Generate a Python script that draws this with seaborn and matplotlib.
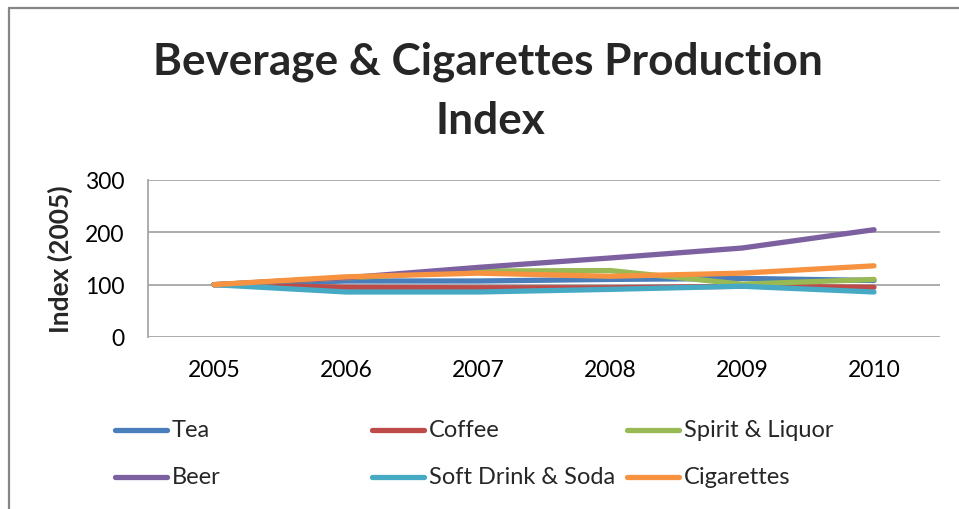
import matplotlib
matplotlib.use("Agg")
import matplotlib.pyplot as plt
from matplotlib.lines import Line2D
import seaborn as sns
import pandas as pd

years = ["2005", "2006", "2007", "2008", "2009", "2010"]
tea = [100, 107, 107, 110, 112, 108]
coffee = [100, 95, 94, 94, 97, 95]
spirit = [100, 113, 126, 127, 101, 110]
beer = [100, 113, 133, 151, 170, 205]
soft_drink = [100, 86, 86, 91, 97, 86]
cigarettes = [100, 115, 122, 116, 122, 136]

series_names = ["Tea", "Coffee", "Spirit & Liquor", "Beer", "Soft Drink & Soda", "Cigarettes"]
series_values = [tea, coffee, spirit, beer, soft_drink, cigarettes]
colors = ["#4A7EBB", "#BE4B48", "#98B954", "#7D60A0", "#46AAC5", "#F69240"]

rows = []
for name, vals in zip(series_names, series_values):
    for i, (yr, v) in enumerate(zip(years, vals)):
        rows.append({"pos": i, "year": yr, "series": name, "value": v})
df = pd.DataFrame(rows)

sns.set_theme(style="white")
plt.rcParams["font.family"] = ["Lato", "DejaVu Sans"]

fig = plt.figure(figsize=(9.59, 5.10), dpi=100)
ax = fig.add_axes([148 / 959, 1 - 338 / 510, (940 - 148) / 959, (338 - 181) / 510])

sns.lineplot(data=df, x="pos", y="value", hue="series", hue_order=series_names,
             palette=colors, linewidth=3.8, legend=False, ax=ax,
             solid_capstyle="round", sort=False)

grid_c = "#A6A6A6"
ax.set_xlim(-0.5, len(years) - 0.5)
ax.set_ylim(0, 300)
ax.set_yticks([0, 100, 200, 300])
ax.set_xticks(range(len(years)))
ax.set_xticklabels(years)
ax.yaxis.grid(True, color=grid_c, linewidth=1.3)
ax.set_axisbelow(True)
for side in ["top", "right", "bottom"]:
    ax.spines[side].set_visible(False)
ax.spines["left"].set_color(grid_c)
ax.spines["left"].set_linewidth(1.3)
ax.tick_params(axis="both", length=0, labelsize=16.5, colors="#000000")
ax.tick_params(axis="y", pad=17)
ax.tick_params(axis="x", pad=16)
ax.set_xlabel("")
ax.set_ylabel("Index (2005)", fontsize=19, fontweight="bold")
ax.yaxis.set_label_coords(-(148 - 73) / 792, 0.5)

fig.text(0.509, 1 - 62 / 510, "Beverage & Cigarettes Production", ha="center", va="center",
         fontsize=31.8, fontweight="bold")
fig.text(0.511, 1 - 121 / 510, "Index", ha="center", va="center",
         fontsize=31.8, fontweight="bold")

# legend: three equal-width columns, two rows
col_x = [115 / 959, 372 / 959, 627 / 959]
row_y = [1 - 431 / 510, 1 - 478 / 510]
handle_w = 52 / 959
for i, (name, c) in enumerate(zip(series_names, colors)):
    x0 = col_x[i % 3]
    y0 = row_y[i // 3]
    fig.add_artist(Line2D([x0, x0 + handle_w], [y0, y0], transform=fig.transFigure,
                          color=c, linewidth=3.8, solid_capstyle="round"))
    fig.text(x0 + handle_w + 5 / 959, y0, name, ha="left", va="center", fontsize=17)

# outer chart frame (left and top edges)
frame_c = "#868686"
fig.add_artist(Line2D([9 / 959, 9 / 959], [0, 1 - 9 / 510], transform=fig.transFigure,
                      color=frame_c, linewidth=1.6))
fig.add_artist(Line2D([9 / 959, 1], [1 - 9 / 510, 1 - 9 / 510], transform=fig.transFigure,
                      color=frame_c, linewidth=1.6))

fig.savefig("out.png", dpi=100)
